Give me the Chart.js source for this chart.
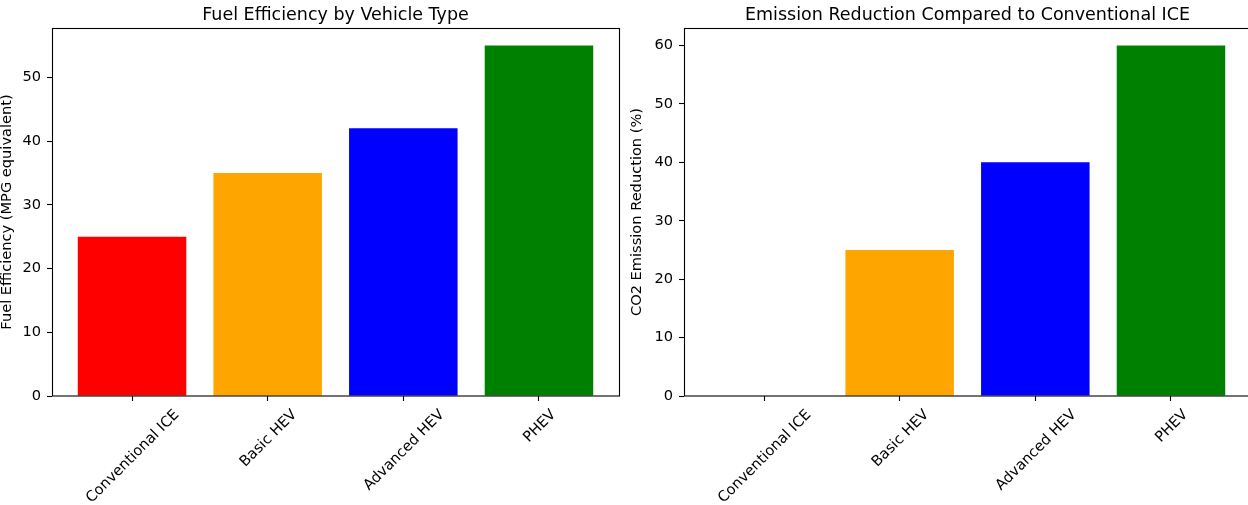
<!DOCTYPE html>
<html><head><meta charset="utf-8">
<script src="https://cdn.jsdelivr.net/npm/chart.js@4/dist/chart.umd.min.js"></script>
<style>
html,body{margin:0;padding:0;background:#fff;overflow:hidden;width:1248px;height:505px;}
#w1{position:absolute;left:0;top:0;width:624px;height:505px;}
#w2{position:absolute;left:624px;top:0;width:640px;height:505px;}
</style></head><body>
<div id="w1"><canvas id="c1"></canvas></div>
<div id="w2"><canvas id="c2"></canvas></div>
<script>
const categories = ['Conventional ICE', 'Basic HEV', 'Advanced HEV', 'PHEV'];
const fuelEfficiency = [25, 35, 42, 55];
const emissionReduction = [0, 25, 40, 60];
const barColors = ['red', 'orange', 'blue', 'green'];
const fuelTicks = [0, 10, 20, 30, 40, 50];
const emissionTicks = [0, 10, 20, 30, 40, 50, 60];
const chartTitles = ['Fuel Efficiency by Vehicle Type', 'Emission Reduction Compared to Conventional ICE'];
const yLabels = ['Fuel Efficiency (MPG equivalent)', 'CO2 Emission Reduction (%)'];

const FONT = '"DejaVu Sans", "Liberation Sans", sans-serif';
const TICK_FS = 14.6, TITLE_FS = 17.5;

const decor = {
  id: 'decor',
  afterDraw(chart, args, opts) {
    const ctx = chart.ctx, a = chart.chartArea, xs = chart.scales.x;
    ctx.save();
    ctx.strokeStyle = '#000';
    ctx.lineWidth = 1.1;
    ctx.strokeRect(a.left + 0.5, a.top + 0.5, a.right - a.left, a.bottom - a.top - 0.5);
    ctx.fillStyle = '#000';
    ctx.font = TITLE_FS + 'px ' + FONT;
    ctx.textAlign = 'center';
    ctx.textBaseline = 'alphabetic';
    ctx.fillText(opts.title, (a.left + a.right) / 2, a.top - 8.5);
    ctx.font = TICK_FS + 'px ' + FONT;
    const h = TICK_FS * 1.164;
    categories.forEach((lab, i) => {
      const w = ctx.measureText(lab).width;
      const W = (w + h) * Math.SQRT1_2;
      const cx = xs.getPixelForValue(i);
      const cy = a.bottom + 9.7 + W / 2;
      ctx.save();
      ctx.translate(cx, cy);
      ctx.rotate(-Math.PI / 4);
      ctx.textAlign = 'center';
      ctx.textBaseline = 'alphabetic';
      ctx.fillText(lab, 0, TICK_FS * 0.346);
      ctx.restore();
    });
    ctx.restore();
  }
};

function makeChart(id, values, yTicks, title, ylabel, yWidth, padRight, labelPad) {
  const yMax = Math.max(...values) * 1.05;
  return new Chart(document.getElementById(id), {
    type: 'bar',
    data: {
      datasets: [{
        data: values.map((v, i) => ({x: i, y: v})),
        backgroundColor: barColors,
        borderWidth: 0,
        categoryPercentage: 1.0,
        barPercentage: 0.8
      }]
    },
    options: {
      responsive: true,
      maintainAspectRatio: false,
      devicePixelRatio: 1,
      animation: false,
      layout: {padding: {left: 0, top: 28, right: padRight, bottom: 0}},
      plugins: {legend: {display: false}, tooltip: {enabled: false}, title: {display: false}, decor: {title: title}},
      scales: {
        x: {
          type: 'linear',
          offset: false,
          min: -0.59, max: 3.59,
          afterBuildTicks: s => { s.ticks = categories.map((c, i) => ({value: i})); },
          afterFit: s => { s.height = 505 - 396; },
          ticks: {display: false},
          border: {display: false},
          grid: {offset: false, drawOnChartArea: false, drawTicks: true, tickLength: 5, tickColor: '#000', tickWidth: 1.1}
        },
        y: {
          type: 'linear',
          min: 0, max: yMax,
          afterBuildTicks: s => { s.ticks = yTicks.map(v => ({value: v})); },
          afterFit: s => { s.width = yWidth; },
          ticks: {color: '#000', font: {family: FONT, size: TICK_FS}, padding: 6},
          border: {display: false},
          grid: {drawOnChartArea: false, drawTicks: true, tickLength: 5, tickColor: '#000', tickWidth: 1.1},
          title: {display: true, text: ylabel, color: '#000', font: {family: FONT, size: TICK_FS, lineHeight: 1}, padding: {top: labelPad, bottom: 0}}
        }
      }
    },
    plugins: [decor]
  });
}

makeChart('c1', fuelEfficiency, fuelTicks, chartTitles[0], yLabels[0], 52, 5, 0.3);
makeChart('c2', emissionReduction, emissionTicks, chartTitles[1], yLabels[1], 60, 13, 6.4);
</script>
</body></html>
